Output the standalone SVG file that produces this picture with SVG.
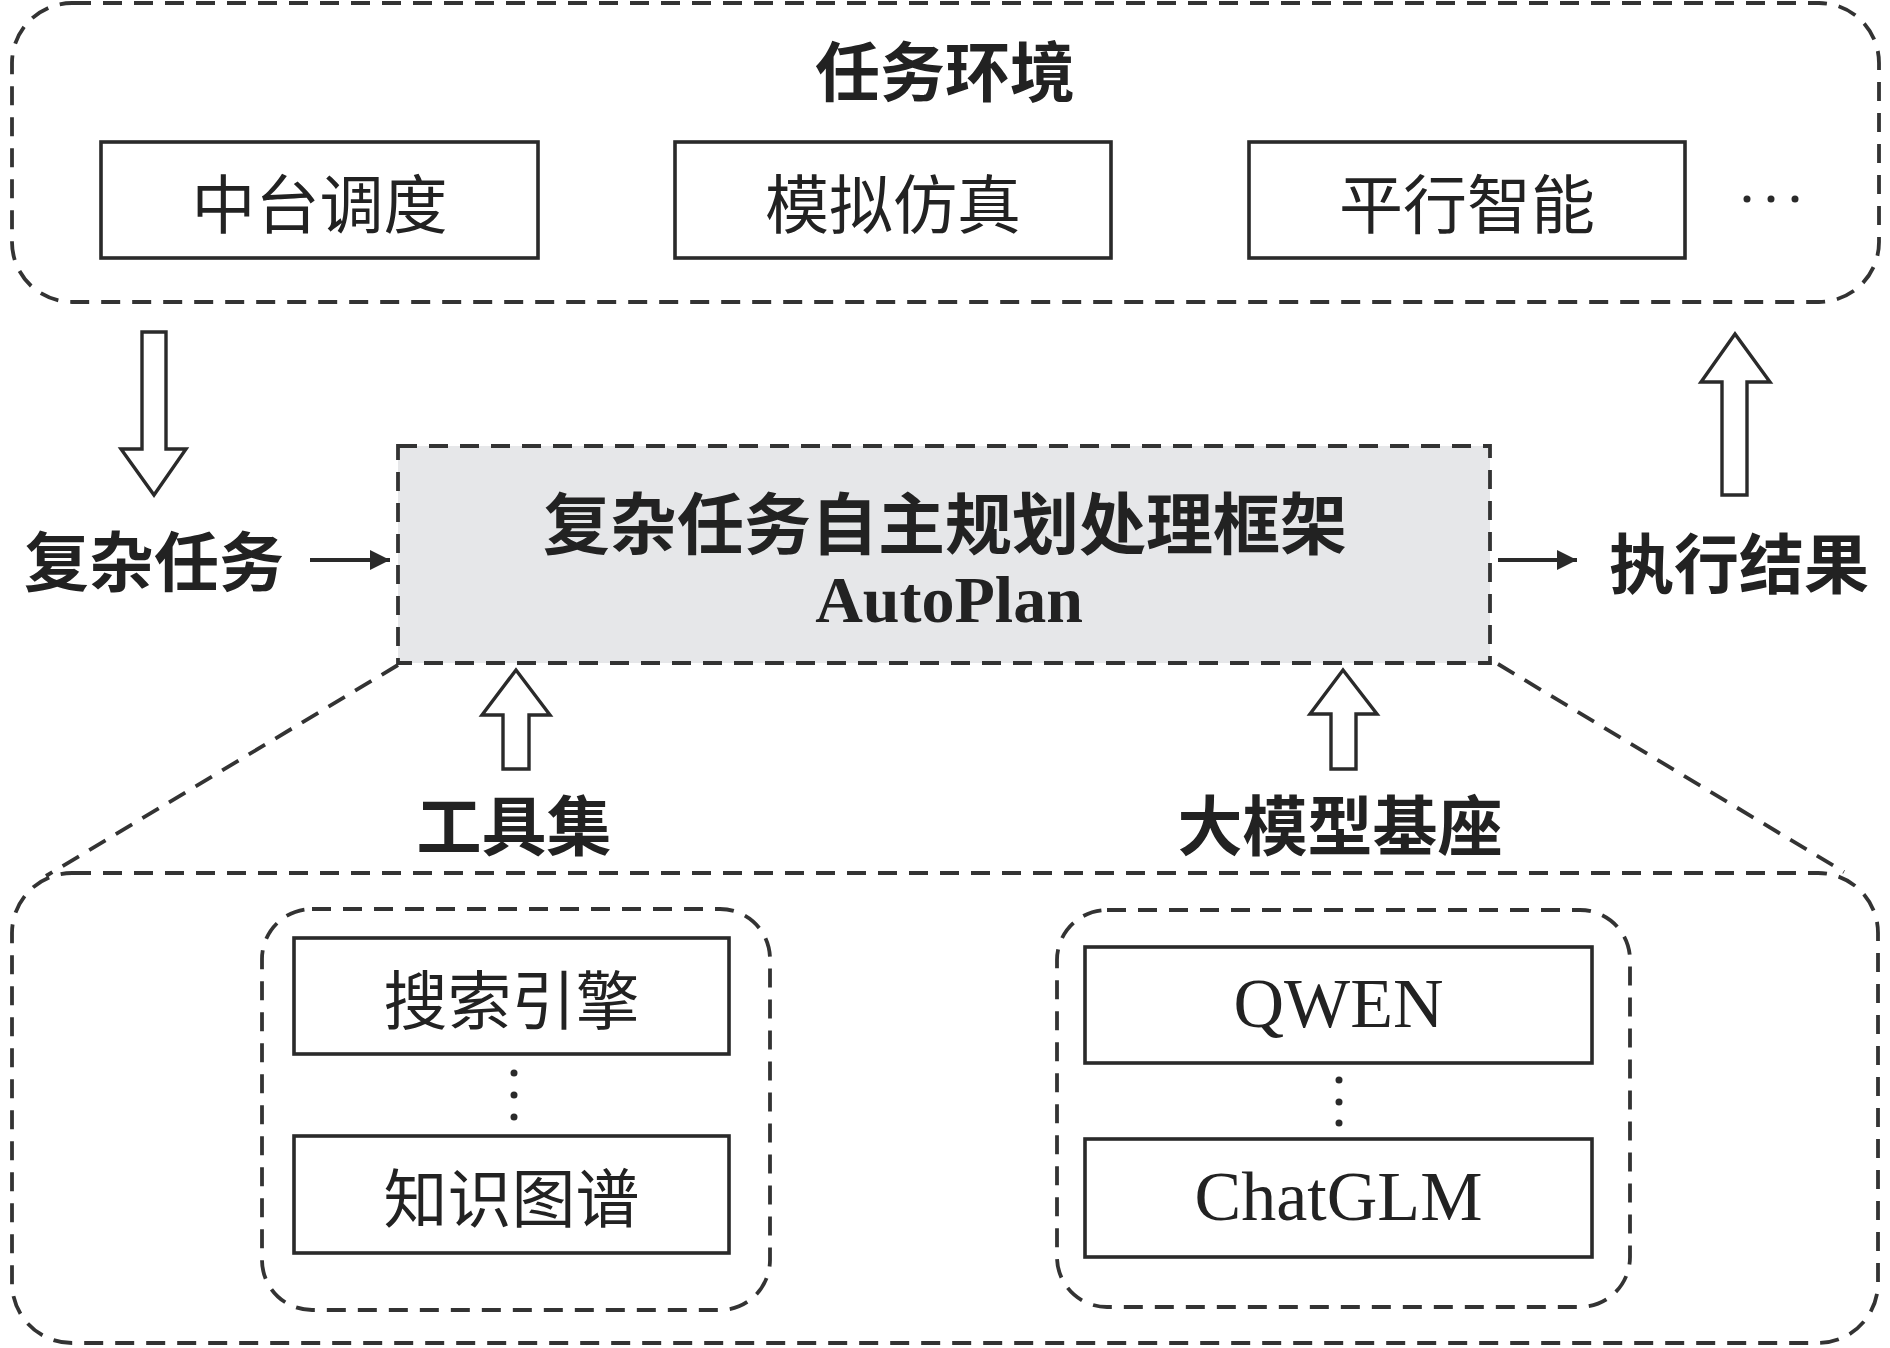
<svg xmlns="http://www.w3.org/2000/svg" width="1890" height="1348" viewBox="0 0 1890 1348">
<style>
.dash{fill:none;stroke:#333;stroke-width:3.8;stroke-dasharray:19 12}
.box{fill:#fff;stroke:#2a2a2a;stroke-width:3.6}
.hollow{fill:#fff;stroke:#2a2a2a;stroke-width:3.4;stroke-linejoin:miter}
.cjk{font-family:"Noto Sans CJK SC","Noto Sans",sans-serif;fill:#222;text-anchor:middle;dominant-baseline:central}
.reg{font-weight:400;font-size:64px}
.bold{font-weight:700;font-size:65px}
.lat{font-family:"Liberation Serif","Times New Roman",serif;fill:#222;text-anchor:middle}
.line{stroke:#2a2a2a;stroke-width:4;fill:none}
.dot{fill:#2a2a2a}
</style>
<defs>
<marker id="ah" viewBox="0 0 10 10" refX="10" refY="5" markerWidth="5" markerHeight="5" markerUnits="strokeWidth" orient="auto">
<path d="M0,0 L10,5 L0,10 Z" fill="#2a2a2a"/>
</marker>
</defs>

<g id="env">
<rect class="dash" x="12" y="3" width="1867" height="299" rx="60" ry="60"/>
<text class="cjk bold" x="945" y="68">任务环境</text>
</g>
<g id="node-zhongtai">
<rect class="box" x="101" y="142" width="437" height="116"/>
<text class="cjk reg" x="319.5" y="200">中台调度</text>
</g>
<g id="node-moni">
<rect class="box" x="675" y="142" width="436" height="116"/>
<text class="cjk reg" x="893" y="200">模拟仿真</text>
</g>
<g id="node-pingxing">
<rect class="box" x="1249" y="142" width="436" height="116"/>
<text class="cjk reg" x="1467" y="200">平行智能</text>
</g>
<g id="env-more">
<circle class="dot" cx="1747" cy="199" r="3.5"/>
<circle class="dot" cx="1771" cy="199" r="3.5"/>
<circle class="dot" cx="1795" cy="199" r="3.5"/>
</g>

<g id="node-task">
<text class="cjk bold" x="154" y="558">复杂任务</text>
</g>
<g id="node-result">
<text class="cjk bold" x="1739" y="560">执行结果</text>
</g>

<g id="node-autoplan">
<rect x="398" y="446" width="1092" height="217" fill="#e6e7e9" stroke="#333" stroke-width="3.8" stroke-dasharray="19 12"/>
<text class="cjk bold" x="945" y="519" style="font-size:67px">复杂任务自主规划处理框架</text>
<text class="lat" x="949" y="622" font-weight="700" font-size="66">AutoPlan</text>
</g>

<g id="node-tools-label">
<text class="cjk bold" x="514" y="822">工具集</text>
</g>
<g id="node-llm-label">
<text class="cjk bold" x="1340" y="822">大模型基座</text>
</g>

<g id="base">
<rect class="dash" x="12" y="873" width="1866" height="470" rx="60" ry="60"/>
</g>
<g id="tools">
<rect class="dash" x="262" y="909" width="508" height="401" rx="50" ry="50"/>
</g>
<g id="node-search">
<rect class="box" x="294" y="938" width="435" height="116"/>
<text class="cjk reg" x="511.5" y="996">搜索引擎</text>
</g>
<g id="tools-more">
<circle class="dot" cx="514" cy="1073" r="3.5"/>
<circle class="dot" cx="514" cy="1095" r="3.5"/>
<circle class="dot" cx="514" cy="1117" r="3.5"/>
</g>
<g id="node-kg">
<rect class="box" x="294" y="1136" width="435" height="117"/>
<text class="cjk reg" x="511.5" y="1194">知识图谱</text>
</g>
<g id="llms">
<rect class="dash" x="1057" y="910" width="573" height="397" rx="50" ry="50"/>
</g>
<g id="node-qwen">
<rect class="box" x="1085" y="947" width="507" height="116"/>
<text class="lat" x="1338.5" y="1027" font-size="70">QWEN</text>
</g>
<g id="llm-more">
<circle class="dot" cx="1339" cy="1080" r="3.5"/>
<circle class="dot" cx="1339" cy="1102" r="3.5"/>
<circle class="dot" cx="1339" cy="1123" r="3.5"/>
</g>
<g id="node-chatglm">
<rect class="box" x="1085" y="1139" width="507" height="118"/>
<text class="lat" x="1338.5" y="1220" font-size="70">ChatGLM</text>
</g>

<g id="connectors">
<polygon class="hollow" points="142,332 166,332 166,449 186,449 154,495 121,449 142,449"/>
<polygon class="hollow" points="1722,495 1747,495 1747,382 1770,382 1735,334 1701,382 1722,382"/>
<polygon class="hollow" points="503,769 529,769 529,715 550,715 516,670 482,715 503,715"/>
<polygon class="hollow" points="1331,769 1356,769 1356,714 1377,714 1343,670 1310,714 1331,714"/>
<line class="line" x1="310" y1="560" x2="390" y2="560" marker-end="url(#ah)"/>
<line class="line" x1="1498" y1="560" x2="1577" y2="560" marker-end="url(#ah)"/>
<line class="dash" x1="398" y1="665" x2="46" y2="876"/>
<line class="dash" x1="1498" y1="664" x2="1844" y2="872"/>
</g>
</svg>
